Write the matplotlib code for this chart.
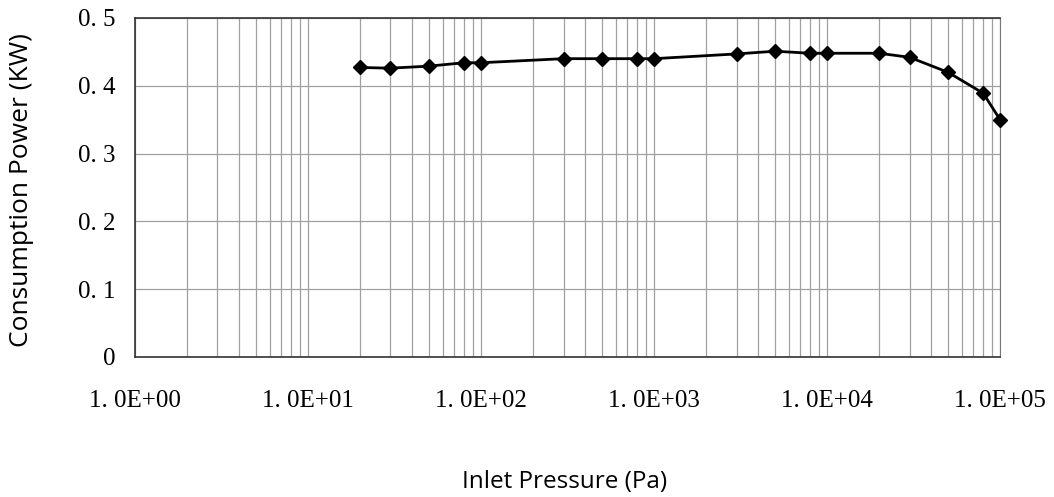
import matplotlib
matplotlib.use("Agg")
import matplotlib.pyplot as plt
from matplotlib.ticker import FixedLocator, LogLocator, NullFormatter


# inlet pressure (Pa) vs. consumption power (kW)
pressure = [20, 30, 50, 80, 100, 300, 500, 800, 1000, 3000, 5000, 8000,
            10000, 20000, 30000, 50000, 80000, 100000]
power = [0.427, 0.426, 0.429, 0.434, 0.434, 0.440, 0.440, 0.440, 0.440,
         0.447, 0.451, 0.448, 0.448, 0.448, 0.442, 0.420, 0.389, 0.350]

x_ticks = [1, 10, 100, 1000, 10000, 100000]
x_labels = ["1. 0E+00", "1. 0E+01", "1. 0E+02", "1. 0E+03", "1. 0E+04", "1. 0E+05"]
y_ticks = [0, 0.1, 0.2, 0.3, 0.4, 0.5]
y_labels = ["0", "0. 1", "0. 2", "0. 3", "0. 4", "0. 5"]


fig = plt.figure(figsize=(10.54, 4.97), dpi=100)
ax = fig.add_axes([0.128, 0.2817, 0.8208, 0.6821])

ax.plot(pressure, power, color="black", linewidth=2.0, marker="D",
        markersize=7.5, markerfacecolor="black", markeredgecolor="black",
        clip_on=False, zorder=3)

ax.set_xscale("log")
ax.set_xlim(1, 100000)
ax.set_ylim(0, 0.5)

ax.xaxis.set_major_locator(FixedLocator(x_ticks))
ax.xaxis.set_minor_locator(LogLocator(base=10, subs=range(2, 10), numticks=20))
ax.xaxis.set_minor_formatter(NullFormatter())
ax.set_xticks(x_ticks)
ax.set_xticklabels(x_labels, fontfamily="Liberation Serif", fontsize=18)
ax.set_yticks(y_ticks)
ax.set_yticklabels(y_labels, fontfamily="Liberation Serif", fontsize=18)

ax.grid(True, which="major", axis="both", color="#a0a0a0", linewidth=0.9)
ax.grid(True, which="minor", axis="x", color="#a0a0a0", linewidth=0.9)
ax.tick_params(axis="both", which="both", length=0)
ax.tick_params(axis="x", pad=24)
ax.tick_params(axis="y", pad=14)

for side in ["left", "bottom", "top"]:
    ax.spines[side].set_color("#333333")
    ax.spines[side].set_linewidth(1.2)
ax.spines["right"].set_color("#777777")

ax.set_xlabel("Inlet Pressure (Pa)", fontfamily="Open Sans", fontsize=17.5)
ax.set_ylabel("Consumption Power (KW)", fontfamily="Open Sans", fontsize=19)
ax.xaxis.set_label_coords(0.497, -0.369)
ax.xaxis.label.set_va("center")
ax.yaxis.set_label_coords(-0.1306, 0.4926)
ax.yaxis.label.set_va("center")

fig.savefig("out.png", dpi=100)
